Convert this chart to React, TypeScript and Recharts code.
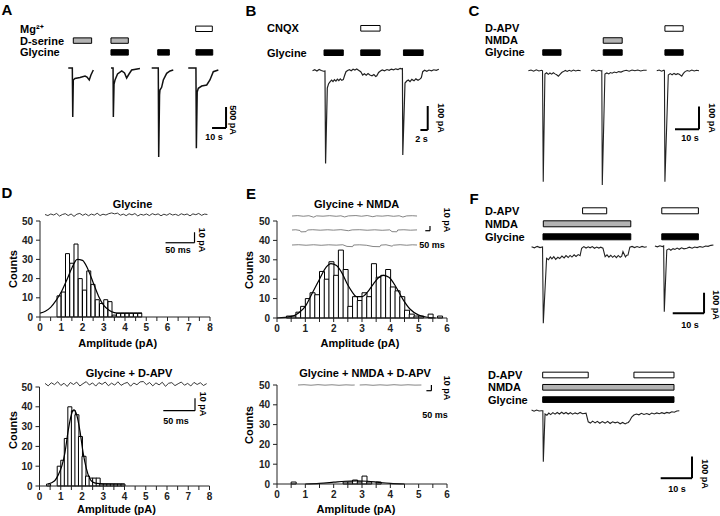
import React from "react";
import {
  ComposedChart,
  LineChart,
  Line,
  Bar,
  XAxis,
  YAxis,
  ReferenceArea,
  ReferenceLine,
} from "recharts";

const FONT = '"Liberation Sans", Arial, Helvetica, sans-serif';
const GRAY = "#b3b3b3";
const INK = "#111";

// ---------- A: whole-cell responses (t in s, i in pA) ----------
const aRows = ["Mg²⁺", "D-serine", "Glycine"];
const aDrugs = [
  { row: 1, from: 9.5, to: 22.6, fill: GRAY },
  { row: 1, from: 36.4, to: 48.8, fill: GRAY },
  { row: 2, from: 36.4, to: 48.8, fill: "#000" },
  { row: 2, from: 69.8, to: 78.1, fill: "#000" },
  { row: 2, from: 97.1, to: 109.1, fill: "#000" },
  { row: 0, from: 96.9, to: 108.8, fill: "#fff" },
];
const aSweep1 = [[5.9, 0], [8.8, 0], [9.1, -1167], [9.5, -286], [10.7, -250], [14.3, -226], [17.9, -190], [19.3, -214], [20.9, -286], [22.1, -167], [23.8, -48]];
const aSweep2 = [[36.4, 0], [37.9, 0], [38.1, -1167], [38.6, -381], [39.3, -286], [41.1, -143], [44.1, -71], [46.1, -119], [47.6, -238], [49.3, -143], [51.2, -48], [57.1, -12]];
const aSweep3 = [[65.5, 0], [70.2, 0], [70.5, -2119], [71.1, -643], [71.4, -524], [72.6, -460], [73.8, -286], [76.2, -126], [78.6, -71], [80.9, -48]];
const aSweep4 = [[91.6, 0], [97.1, 0], [97.4, -1912], [98, -571], [98.8, -483], [101.2, -429], [104.8, -405], [107.1, -286], [109.5, -88], [113.1, -48]];

// ---------- B: CNQX ----------
const bRows = ["CNQX", "", "Glycine"];
const bDrugs = [
  { row: 0, from: 13.9, to: 19.2, fill: "#fff" },
  { row: 2, from: 3.84, to: 9.12, fill: "#000" },
  { row: 2, from: 13.9, to: 19.2, fill: "#000" },
  { row: 2, from: 25.6, to: 31.0, fill: "#000" },
];
const bSweep = [[0.7, -1], [1.3, 3], [1.9, -2], [2.5, 4], [3.1, 0], [3.7, -3], [4.1, -2], [4.27, -387], [4.74, -73], [5.1, -55], [5.48, -47], [5.9, -40], [6.3, -46], [6.7, -38], [7.1, -44], [7.5, -36], [7.9, -42], [8.3, -35], [8.7, -41], [9.12, -38], [9.5, -20], [9.86, -5], [10.3, 0], [10.8, 3], [11.3, -1], [11.8, 5], [12.3, 2], [12.8, 6], [13.3, 1], [13.9, -5], [14.44, -19], [14.9, -14], [15.4, -20], [15.9, -13], [16.4, -19], [16.99, -22], [17.5, -17], [18.0, -25], [18.3, -22], [18.8, -8], [19.3, -2], [19.8, 2], [20.4, -1], [21.1, 4], [21.7, 1], [22.3, 6], [22.9, 3], [23.5, 7], [24.1, 4], [24.7, 9], [25.1, 7], [25.32, 8], [25.42, -352], [26.03, -52], [26.5, -44], [26.93, -40], [27.4, -46], [27.9, -37], [28.5, -43], [29.0, -35], [29.6, -41], [30.1, -36], [30.5, -30], [30.88, -5], [31.4, 1], [32.0, -3], [32.6, 2], [33.3, -1], [33.9, 3], [34.6, 1], [35.3, 5]];

// ---------- C: NMDA / D-APV ----------
const cRows = ["D-APV", "NMDA", "Glycine"];
const cDrugs = [
  { row: 0, from: 58.3, to: 65.9, fill: "#fff" },
  { row: 1, from: 32.6, to: 40.5, fill: GRAY },
  { row: 2, from: 7.4, to: 15, fill: "#000" },
  { row: 2, from: 32.6, to: 40.5, fill: "#000" },
  { row: 2, from: 58.3, to: 65.9, fill: "#000" },
];
const cSweep1 = [[1.4, 0], [2.5, 3], [3.6, -2], [4.7, 4], [5.8, -1], [7.0, 2], [7.3, 0], [7.6, -489], [8.3, -15], [9.0, -9], [9.7, -16], [10.4, -10], [11.1, -15], [11.8, -9], [12.5, -14], [13.2, -18], [13.9, -24], [14.6, -16], [15.3, -8], [16, -4], [16.8, 1], [17.6, -3], [18.4, 2], [19.3, -2], [20.2, 3], [21.1, -1], [22.1, 2], [23.2, 0]];
const cSweep2 = [[27.5, 0], [28.6, 3], [29.7, -2], [30.8, 2], [31.8, -1], [32.0, 0], [32.2, -504], [33.3, -15], [34.1, -10], [34.9, -14], [35.6, -8], [36.3, -11], [37.2, -6], [38.1, -9], [39.0, -4], [40.0, -6], [41, -1], [42.2, 2], [43.4, -2], [44.6, 3], [45.8, 0], [47.0, 3], [48.2, -1], [49.4, 2], [50.7, 2]];
const cSweep3 = [[54.9, 0], [55.9, 3], [56.9, -2], [57.9, 2], [58.1, 0], [58.3, -489], [59.7, -19], [60.5, -13], [61.3, -18], [62.1, -12], [62.9, -17], [63.6, -13], [64.3, -16], [65.3, -24], [66.0, -12], [66.7, -4], [67.6, 1], [68.5, -2], [69.5, 3], [70.5, -1], [71.5, 2], [72.5, 0]];

// ---------- F: NMDA / D-APV, long applications ----------
const fRows = ["D-APV", "NMDA", "Glycine"];
const fTopDrugs = [
  { row: 0, from: 18.4, to: 26.1, fill: "#fff" },
  { row: 0, from: 43.7, to: 55.4, fill: "#fff" },
  { row: 1, from: 5.85, to: 33.8, fill: GRAY },
  { row: 2, from: 5.75, to: 33.8, fill: "#000" },
  { row: 2, from: 43.7, to: 55.4, fill: "#000" },
];
const fTopSweep1 = [[2.1, 1], [3.0, -4], [3.9, 3], [4.8, -3], [5.6, 0], [5.85, -370], [6.9, -55], [7.5, -62], [8.1, -48], [8.6, -58], [9.2, -47], [9.8, -60], [10.5, -50], [11.1, -56], [11.8, -44], [12.5, -53], [13.1, -42], [13.8, -51], [14.4, -41], [15.0, -49], [15.7, -38], [16.3, -46], [17.0, -37], [17.6, -42], [18.1, -6], [18.8, 2], [19.5, -5], [20.2, 1], [20.8, -4], [21.5, 2], [22.2, -6], [22.9, 0], [23.6, -5], [24.2, -1], [24.9, -6], [25.6, -47], [26.2, -38], [26.8, -49], [27.4, -40], [28.0, -50], [28.6, -42], [29.2, -52], [29.8, -41], [30.4, -50], [30.9, -44], [31.3, -22], [31.7, -35], [32.1, -48], [32.5, -40], [32.9, -39], [33.5, -1], [34.2, 3], [35.0, -3], [35.8, 2], [36.6, -2], [37.4, 3], [38.2, -1], [38.9, 1]];
const fTopSweep2 = [[41.5, 5], [42.3, 1], [43.1, 6], [43.9, 2], [44.3, 5], [44.5, -314], [45.3, -15], [46.0, -9], [46.6, -16], [47.3, -8], [47.9, -12], [48.6, -5], [49.3, -11], [50.0, -4], [50.8, -9], [51.7, -6], [52.5, -1], [53.4, -6], [54.2, 0], [55.0, -3], [55.9, 2], [56.8, -1], [57.7, 5], [58.5, 3], [59.4, 8], [60.2, 10]];
const fBotDrugs = [
  { row: 0, from: 5.65, to: 20.2, fill: "#fff" },
  { row: 0, from: 34.8, to: 47.6, fill: "#fff" },
  { row: 1, from: 5.65, to: 47.6, fill: GRAY },
  { row: 2, from: 5.65, to: 47.6, fill: "#000" },
];
const fBotSweep = [[2.1, 2], [2.9, -3], [3.7, 2], [4.5, -2], [5.3, -1], [5.7, -1], [5.85, -236], [6.4, -16], [7.0, -22], [7.6, -12], [8.2, -19], [8.9, -10], [9.6, -17], [10.3, -9], [11.0, -16], [11.7, -8], [12.4, -15], [13.1, -9], [13.8, -16], [14.5, -10], [15.2, -17], [16.0, -11], [16.8, -16], [17.6, -9], [18.4, -15], [19.5, -12], [20.2, -52], [20.9, -58], [21.6, -49], [22.4, -57], [23.1, -50], [23.9, -59], [24.7, -51], [25.6, -58], [26.4, -50], [27.2, -60], [28.0, -52], [28.8, -57], [29.6, -53], [30.4, -61], [31.2, -55], [32.0, -62], [32.5, -58], [33.0, -55], [33.5, -46], [34.1, -30], [34.8, -21], [35.6, -16], [36.4, -20], [37.2, -13], [38.0, -18], [38.9, -14], [39.7, -19], [40.5, -12], [41.3, -16], [42.1, -11], [42.9, -15], [43.7, -10], [44.5, -14], [45.3, -9], [46.1, -12], [46.9, -6], [47.7, -8], [48.5, -2], [49.3, -1]];

// ---------- D / E: single-channel insets (t in ms, i in pA) ----------
const dTopSweep = [[0, 0], [5, -1], [10, 0.5], [15, -0.5], [20, 1], [25, -1.5], [30, 0], [35, 0.8], [40, -1], [45, 0.5], [50, -1.8], [55, 0.3], [60, 1], [65, -0.8], [70, 0.6], [75, -1.2], [80, 0.4], [85, -0.6], [90, 1.2], [95, -1], [100, 0.3], [105, -0.5], [110, 0.8], [115, 1.5], [120, 0.6], [125, 1.3], [130, -0.7], [135, 0.4], [140, -1.1], [145, 0.7], [150, -0.4], [155, 0.9], [160, -1.4], [165, 0.2], [170, -0.6], [175, 0.5], [180, -1], [185, 0.8], [190, -0.3], [195, 0.6], [200, -1.2], [205, 0.3], [210, -0.7], [215, 0.9], [220, -0.5], [225, 0.2], [230, -1], [235, 0.7], [240, -0.4], [245, 0.5], [250, -1.3], [255, 0.6], [260, -0.2], [265, 1], [270, -0.8], [275, 0.4], [280, 0]];
const dBotSweep = [[0, 0.5], [5, -1.5], [10, 1], [15, -0.5], [20, 1.8], [25, -1.2], [30, 0.6], [35, -2], [40, 1.2], [45, -0.4], [50, 1.5], [55, -1.6], [60, 0.3], [65, 1.9], [70, -0.8], [75, 0.9], [80, -1.7], [85, 1.1], [90, -0.3], [95, 1.6], [100, -1.4], [105, 0.7], [110, -0.9], [115, 1.8], [120, -1.1], [125, 0.4], [130, 1.3], [135, -1.8], [140, 0.8], [145, -0.6], [150, 1.7], [155, 2], [160, -0.5], [165, 1.2], [170, -1.5], [175, 0.9], [180, -0.7], [185, 1.4], [190, -1.9], [195, 0.6], [200, 1.1], [205, -1.3], [210, 0.2], [215, 1.6], [220, -1], [225, 0.5], [230, -1.6], [235, 1.3], [240, -0.4], [245, 1], [250, -1.2], [255, 0.3]];
const eSweep1 = [[0, 0], [60, 0.8], [120, -0.5], [180, 0.6], [230, -2.5], [260, 0.3], [330, -0.4], [400, 0.7], [470, -0.6], [520, 0.4], [560, -2], [600, 0.2], [680, 0.9], [740, -0.5], [800, 1.0], [860, -1.5], [900, 0.3], [960, -0.3], [1020, 0.8], [1080, -0.6], [1140, 0.5], [1180, -2.2], [1220, 0.2], [1280, 0.6], [1330, 0]];
const eSweep2 = [[0, 0], [40, 0.5], [85, -1], [95, -4], [150, -3.5], [165, 0], [220, 0.6], [300, -0.4], [380, 0.5], [440, -0.3], [520, 0.7], [600, -1.5], [640, 0.2], [720, 0.6], [800, -0.5], [880, 0.4], [960, -0.6], [1040, 0.3], [1064, -3.5], [1115, -3.8], [1125, 0], [1190, 0.5], [1260, -0.4], [1330, 0.2]];
const eSweep3 = [[0, 0], [70, 0.6], [150, -0.5], [230, 0.5], [310, -0.6], [390, 0.4], [470, -0.3], [540, 0.5], [585, -3], [645, -3.5], [655, 0], [720, 0.4], [790, -0.5], [862, -3.2], [935, -3.6], [945, -0.2], [1000, 0.5], [1064, -2.5], [1080, -0.4], [1150, 0.6], [1220, -0.5], [1280, 0.4], [1330, 0]];
const eBotSweepA = [[0, 0], [60, 0.5], [130, -0.4], [200, 0.6], [270, -0.3], [340, 0.4], [410, -0.5], [480, 0.3], [540, -0.2], [567, 0]];
const eBotSweepB = [[617, 0], [680, 0.4], [750, -0.5], [820, 0.3], [890, -0.4], [960, 0.5], [1030, -0.3], [1100, 0.4], [1170, -0.2], [1234, 0]];

// ---------- D / E: amplitude histograms ----------
const dTopCounts = [11, 13, 33, 28, 38, 20, 14, 24, 17, 9, 7, 9, 8, 1, 2, 2, 2, 2, 2, 2]; // 0.2 pA bins from 0.8
const dTopFit = [[0, 2], [0.25, 3], [0.5, 5], [0.75, 8.5], [1.0, 13], [1.25, 19], [1.5, 25.5], [1.75, 30], [2.0, 29.5], [2.25, 25], [2.5, 18], [2.75, 11], [3.0, 6], [3.25, 3.5], [3.5, 2.3], [3.75, 2], [4.8, 2]];
const dBotCounts = [1, 0, 0, 10, 13, 24, 40, 38, 36, 25, 15, 5, 4, 4, 4, 1, 1, 1, 1, 1, 1, 1]; // 1/6 pA bins from 0.33
const dBotFit = [[0.4, 1], [0.7, 2.5], [0.9, 6], [1.05, 10], [1.2, 17], [1.35, 28], [1.5, 36], [1.62, 38.5], [1.75, 36], [1.9, 28], [2.05, 17], [2.2, 9], [2.35, 4], [2.5, 2], [2.7, 1.3], [3.0, 1.1], [4.0, 1]];
const eTopCounts = [1, 1, 3, 6, 10, 13, 12, 24, 20, 29, 22, 35, 25, 6, 11, 9, 13, 11, 28, 21, 22, 25, 16, 14, 11, 4, 2, 1, 1, 0, 2, 0, 1]; // 1/6 pA bins from 0.33
const eTopFit = [[0, 0], [0.5, 0.8], [0.75, 2.5], [1.0, 6], [1.25, 13], [1.5, 20], [1.75, 26.5], [1.9, 28], [2.1, 27], [2.3, 23], [2.5, 17], [2.65, 13.5], [2.8, 11], [3.0, 11], [3.2, 13.5], [3.4, 17.5], [3.6, 21], [3.75, 22], [3.95, 21], [4.2, 16], [4.45, 9.5], [4.7, 4.5], [5.0, 1.5], [5.3, 0.4], [5.6, 0]];
const eBotCounts = [1, 0, 0, 0, 0, 0, 0, 0, 0, 0, 0, 1, 1, 2, 1, 4, 1, 0, 1]; // 1/6 pA bins from 0.5
const eBotFit = [[1.0, 0], [1.5, 0.3], [2.0, 0.9], [2.4, 1.4], [2.8, 1.6], [3.2, 1.4], [3.6, 0.8], [4.0, 0.3], [4.5, 0]];
const countTicks = [0, 10, 20, 30, 40, 50];

type Drug = { row: number; from: number; to: number; fill: string };
type Scale = { t: number; i: number; dt: number; di: number };

function joinSweeps(sweeps: number[][][]) {
  const out: { t: number; i: number | null }[] = [];
  sweeps.forEach((s, k) => {
    if (k > 0) {
      const prev = sweeps[k - 1];
      out.push({ t: (prev[prev.length - 1][0] + s[0][0]) / 2, i: null });
    }
    s.forEach(([t, i]) => out.push({ t, i }));
  });
  return out;
}

function Trace(p: {
  left: number; top: number; width: number; height: number; plotLeft?: number;
  xPx: number; yPx: number; baseY: number; sweeps: number[][][];
  rows?: string[]; rowTop?: number; rowGap?: number; drugs?: Drug[];
  scale?: Scale; stroke?: string; lineWidth?: number; scaleWidth?: number;
}) {
  const plotLeft = p.plotLeft ?? p.left;
  const axisW = plotLeft - p.left;
  const tMax = (p.width - axisW) / p.xPx;
  const iTop = (p.baseY - p.top) / p.yPx;
  const iBot = -(p.top + p.height - p.baseY) / p.yPx;
  const rows = p.rows ?? [];
  const gap = p.rowGap ?? 12;
  const rowLo = -((p.rowTop ?? p.top) - p.top) / gap;
  const rowHi = rowLo + p.height / gap;
  const s = p.scale;
  const sw = p.scaleWidth ?? 2;
  return (
    <div style={{ position: "absolute", left: p.left, top: p.top }}>
      <LineChart width={p.width} height={p.height} data={joinSweeps(p.sweeps)} margin={{ top: 0, right: 0, bottom: 0, left: 0 }}>
        <XAxis type="number" dataKey="t" domain={[0, tMax]} hide allowDataOverflow />
        <YAxis yAxisId="pA" type="number" domain={[iBot, iTop]} hide allowDataOverflow />
        {rows.length > 0 && (
          <YAxis
            yAxisId="rows"
            type="number"
            domain={[rowLo, rowHi]}
            reversed
            allowDataOverflow
            width={axisW}
            ticks={rows.map((_, k) => k)}
            interval={0}
            axisLine={false}
            tickLine={false}
            tick={(tp: any) => (
              <text x={0} y={tp.y} dy="0.36em" fontSize={11} fontWeight="bold" fontFamily={FONT} fill="#000">
                {rows[tp.payload.value]}
              </text>
            )}
          />
        )}
        {(p.drugs ?? []).map((d, k) => (
          <ReferenceArea
            key={k}
            yAxisId="rows"
            x1={d.from}
            x2={d.to}
            y1={d.row - 0.23}
            y2={d.row + 0.23}
            fill={d.fill}
            fillOpacity={1}
            stroke="#000"
            strokeWidth={1}
          />
        ))}
        <Line
          yAxisId="pA"
          dataKey="i"
          type="linear"
          dot={false}
          stroke={p.stroke ?? INK}
          strokeWidth={p.lineWidth ?? 1.3}
          connectNulls={false}
          isAnimationActive={false}
        />
        {s && <ReferenceLine yAxisId="pA" segment={[{ x: s.t - s.dt, y: s.i }, { x: s.t, y: s.i }]} stroke="#000" strokeWidth={sw} />}
        {s && <ReferenceLine yAxisId="pA" segment={[{ x: s.t, y: s.i }, { x: s.t, y: s.i + s.di }]} stroke="#000" strokeWidth={sw} />}
      </LineChart>
    </div>
  );
}

function Histogram(p: {
  left: number; top: number; plotLeft: number; plotRight: number; plotTop: number; plotBottom: number;
  xMax: number; binW: number; startBin: number; counts: number[]; fit: number[][];
}) {
  const n = Math.round(p.xMax / p.binW);
  const table = Array.from({ length: n }, (_, k) => {
    const j = k - p.startBin;
    return { bin: k, count: j >= 0 && j < p.counts.length && p.counts[j] > 0 ? p.counts[j] : null };
  });
  const fitData = p.fit.map(([x, y]) => ({ x, y }));
  const xTicks = Array.from({ length: p.xMax * 2 + 1 }, (_, k) => k / 2);
  const axisStyle = { stroke: "#222", strokeWidth: 1 };
  const tickStyle = { fontSize: 10, fontWeight: 700, fill: "#222", fontFamily: FONT };
  return (
    <div style={{ position: "absolute", left: p.left, top: p.top }}>
      <ComposedChart
        width={p.plotRight - p.left + 10}
        height={p.plotBottom - p.top + 24}
        data={table}
        margin={{ top: p.plotTop - p.top, right: 10, bottom: 0, left: 0 }}
        barCategoryGap={0}
        barGap={0}
      >
        <XAxis xAxisId="bins" dataKey="bin" type="category" hide />
        <XAxis
          xAxisId="amp"
          dataKey="x"
          type="number"
          domain={[0, p.xMax]}
          ticks={xTicks}
          interval={0}
          allowDataOverflow
          height={24}
          tickSize={4}
          tickMargin={3}
          axisLine={axisStyle}
          tickLine={axisStyle}
          tick={tickStyle}
          tickFormatter={(v: number) => (Number.isInteger(v) ? String(v) : "")}
        />
        <YAxis
          type="number"
          domain={[0, 50]}
          ticks={countTicks}
          interval={0}
          width={p.plotLeft - p.left}
          tickSize={4}
          tickMargin={3}
          axisLine={axisStyle}
          tickLine={axisStyle}
          tick={tickStyle}
        />
        <Bar xAxisId="bins" dataKey="count" fill="#fff" stroke="#000" strokeWidth={1} isAnimationActive={false} />
        <Line
          xAxisId="amp"
          data={fitData}
          dataKey="y"
          type="monotone"
          dot={false}
          stroke="#000"
          strokeWidth={1.2}
          isAnimationActive={false}
        />
      </ComposedChart>
    </div>
  );
}

function Txt({ x, y, size = 11, rot = 0, children }: { x: number; y: number; size?: number; rot?: number; children: React.ReactNode }) {
  return (
    <div
      style={{
        position: "absolute",
        left: x,
        top: y,
        transform: `translate(-50%, -50%) rotate(${rot}deg)`,
        fontSize: size,
        fontWeight: "bold",
        fontFamily: FONT,
        whiteSpace: "nowrap",
        lineHeight: 1,
        color: "#000",
      }}
    >
      {children}
    </div>
  );
}

export default function App() {
  return (
    <div style={{ position: "absolute", left: 0, top: 0, width: 720, height: 516, background: "#fff", overflow: "hidden" }}>
      {/* panel letters */}
      <Txt x={7} y={9} size={15}>A</Txt>
      <Txt x={251} y={10} size={15}>B</Txt>
      <Txt x={474} y={10} size={15}>C</Txt>
      <Txt x={7} y={192} size={15}>D</Txt>
      <Txt x={251} y={192.5} size={15}>E</Txt>
      <Txt x={474} y={197.5} size={15}>F</Txt>

      {/* A */}
      <Trace left={20} top={20} width={220} height={145} plotLeft={60} xPx={1.4} yPx={0.042} baseY={68}
        sweeps={[aSweep1, aSweep2, aSweep3, aSweep4]} rows={aRows} rowTop={28.8} rowGap={11.8} drugs={aDrugs}
        scale={{ t: 118.6, i: -1429, dt: 10, di: 500 }} lineWidth={1.5} />
      <Txt x={231.5} y={119.5} size={9} rot={90}>500 pA</Txt>
      <Txt x={214} y={137} size={9}>10 s</Txt>

      {/* B */}
      <Trace left={267} top={20} width={180} height={150} plotLeft={310} xPx={3.65} yPx={0.24} baseY={70.5}
        sweeps={[bSweep]} rows={bRows} rowTop={28.3} rowGap={12.2} drugs={bDrugs}
        scale={{ t: 32.25, i: -248, dt: 2, di: 100 }} stroke="#222" lineWidth={1.2} />
      <Txt x={440} y={117.5} size={9} rot={90}>100 pA</Txt>
      <Txt x={421.5} y={139} size={9}>2 s</Txt>

      {/* C */}
      <Trace left={485} top={20} width={235} height={170} plotLeft={525} xPx={2.4} yPx={0.227} baseY={70.7}
        sweeps={[cSweep1, cSweep2, cSweep3]} rows={cRows} rowTop={28.5} rowGap={12} drugs={cDrugs}
        scale={{ t: 72.5, i: -258, dt: 10, di: 100 }} stroke="#222" lineWidth={1.1} />
      <Txt x={711} y={118} size={9} rot={90}>100 pA</Txt>
      <Txt x={690} y={138} size={9}>10 s</Txt>

      {/* F */}
      <Trace left={485} top={200} width={235} height={130} plotLeft={525} xPx={3.13} yPx={0.206} baseY={247}
        sweeps={[fTopSweep1, fTopSweep2]} rows={fRows} rowTop={210.8} rowGap={13} drugs={fTopDrugs}
        scale={{ t: 57.2, i: -322, dt: 10, di: 100 }} stroke="#222" lineWidth={1.1} />
      <Txt x={715} y={305} size={9} rot={90}>100 pA</Txt>
      <Txt x={690} y={325} size={9}>10 s</Txt>
      <Trace left={488} top={365} width={232} height={120} plotLeft={525} xPx={3.13} yPx={0.217} baseY={410.5}
        sweeps={[fBotSweep]} rows={fRows} rowTop={375} rowGap={12.3} drugs={fBotDrugs}
        scale={{ t: 53.35, i: -312, dt: 10, di: 100 }} stroke="#222" lineWidth={1.1} />
      <Txt x={704} y={474} size={9} rot={90}>100 pA</Txt>
      <Txt x={677} y={489} size={9}>10 s</Txt>

      {/* D */}
      <Histogram left={0} top={210} plotLeft={40} plotRight={210} plotTop={221} plotBottom={317}
        xMax={8} binW={0.2} startBin={4} counts={dTopCounts} fit={dTopFit} />
      <Histogram left={0} top={378} plotLeft={39.5} plotRight={209.5} plotTop={387} plotBottom={486}
        xMax={8} binW={1 / 6} startBin={2} counts={dBotCounts} fit={dBotFit} />
      <Trace left={45} top={204} width={165} height={50} xPx={0.58} yPx={1.05} baseY={214.5}
        sweeps={[dTopSweep]} scale={{ t: 257.8, i: -26.9, dt: 50, di: 10 }} stroke="#222" lineWidth={0.9} scaleWidth={1.2} />
      <Trace left={45} top={374} width={165} height={45} xPx={0.634} yPx={1.24} baseY={384}
        sweeps={[dBotSweep]} scale={{ t: 236.6, i: -21.5, dt: 50, di: 10 }} stroke="#222" lineWidth={0.9} scaleWidth={1.2} />
      <Txt x={132.5} y={203.7}>Glycine</Txt>
      <Txt x={129} y={373}>Glycine + D-APV</Txt>
      <Txt x={201} y={240} size={9} rot={90}>10 pA</Txt>
      <Txt x={178} y={249.5} size={9}>50 ms</Txt>
      <Txt x={201.5} y={404} size={9} rot={90}>10 pA</Txt>
      <Txt x={176} y={421} size={9}>50 ms</Txt>
      <Txt x={13} y={269} rot={-90}>Counts</Txt>
      <Txt x={12.5} y={430} rot={-90}>Counts</Txt>
      <Txt x={117.7} y={342.5}>Amplitude (pA)</Txt>
      <Txt x={116.5} y={509}>Amplitude (pA)</Txt>

      {/* E */}
      <Histogram left={240} top={210} plotLeft={277} plotRight={447} plotTop={221} plotBottom={318}
        xMax={6} binW={1 / 6} startBin={2} counts={eTopCounts} fit={eTopFit} />
      <Histogram left={240} top={376} plotLeft={277} plotRight={447} plotTop={385} plotBottom={484}
        xMax={6} binW={1 / 6} startBin={3} counts={eBotCounts} fit={eBotFit} />
      <Trace left={292} top={206} width={150} height={20} xPx={0.094} yPx={0.47} baseY={216}
        sweeps={[eSweep1]} stroke="#666" lineWidth={0.8} />
      <Trace left={292} top={220} width={150} height={20} xPx={0.094} yPx={0.47} baseY={230}
        sweeps={[eSweep2]} scale={{ t: 1468, i: -1.5, dt: 50, di: 10 }} stroke="#666" lineWidth={0.8} scaleWidth={1.2} />
      <Trace left={292} top={235} width={150} height={20} xPx={0.094} yPx={0.47} baseY={245}
        sweeps={[eSweep3]} stroke="#666" lineWidth={0.8} />
      <Trace left={298} top={375} width={140} height={20} xPx={0.1} yPx={0.57} baseY={385}
        sweeps={[eBotSweepA, eBotSweepB]} scale={{ t: 1334, i: -10, dt: 50, di: 10 }} stroke="#666" lineWidth={0.8} scaleWidth={1.2} />
      <Txt x={356.7} y={203.7}>Glycine + NMDA</Txt>
      <Txt x={365} y={372.5}>Glycine + NMDA + D-APV</Txt>
      <Txt x={446} y={220} size={9} rot={90}>10 pA</Txt>
      <Txt x={432} y={245} size={9}>50 ms</Txt>
      <Txt x={446} y={388} size={9} rot={90}>10 pA</Txt>
      <Txt x={435} y={415} size={9}>50 ms</Txt>
      <Txt x={249} y={270} rot={-90}>Counts</Txt>
      <Txt x={249} y={425} rot={-90}>Counts</Txt>
      <Txt x={360} y={342.5}>Amplitude (pA)</Txt>
      <Txt x={356} y={509}>Amplitude (pA)</Txt>
    </div>
  );
}
